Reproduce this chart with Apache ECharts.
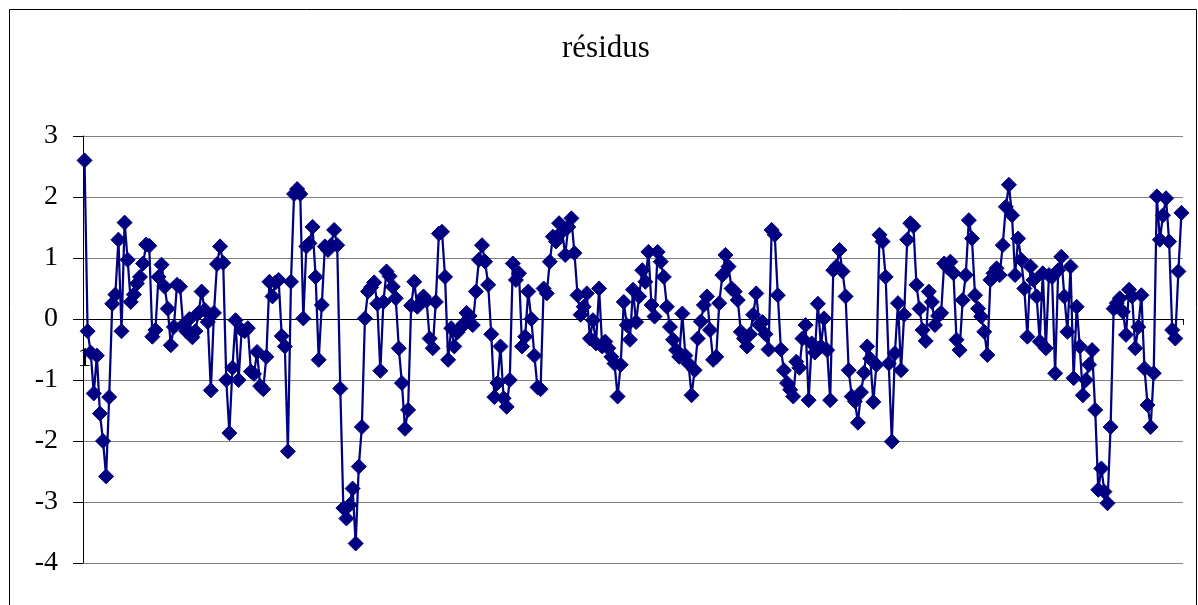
<!DOCTYPE html>
<html>
<head>
<meta charset="utf-8">
<script src="https://cdn.jsdelivr.net/npm/echarts@6/dist/echarts.min.js"></script>
<style>
html,body{margin:0;padding:0;background:#fff;}
#chart{width:1198px;height:605px;}
</style>
</head>
<body>
<div id="chart"></div>
<script>
const titleText = 'résidus';
const yTickLabels = ['-4', '-3', '-2', '-1', '0', '1', '2', '3'];

const residualsPart1 = [2.6, -0.2, -0.55, -1.22, -0.6, -1.55, -2.0, -2.58, -1.28, 0.25,
  0.4, 1.3, -0.2, 1.58, 0.97, 0.28, 0.4, 0.58, 0.69, 0.91,
  1.22, 1.2, -0.29, -0.18, 0.69, 0.89, 0.53, 0.17, -0.43, -0.13,
  0.56, 0.53, -0.1, -0.2, 0.0, -0.3, -0.2, 0.1, 0.45, 0.15,
  -0.05, -1.17, 0.1, 0.9, 1.19, 0.92, -1.0];
const residualsPart2 = [-1.87, -0.8, -0.02, -1.0, -0.18, -0.2, -0.15, -0.86, -0.9, -0.54,
  -1.1, -1.15, -0.62, 0.61, 0.37, 0.6, 0.64, -0.28, -0.45, -2.17,
  0.61, 2.05, 2.13, 2.05, 0.01, 1.19, 1.24, 1.51, 0.69, -0.67,
  0.23, 1.19, 1.13, 1.21, 1.46, 1.21, -1.14, -3.10, -3.27, -3.05,
  -2.78, -3.68, -2.42, -1.77, 0.01, 0.45, 0.52, 0.6, 0.25, -0.85,
  0.28, 0.78, 0.7, 0.53, 0.34, -0.48, -1.05, -1.8, -1.49, 0.22,
  0.61, 0.2, 0.26, 0.37, 0.3, -0.32, -0.48, 0.28, 1.40, 1.43,
  0.69, -0.67];
const residualsPart3 = [-0.15, -0.45, -0.22, -0.15, -0.08, 0.1, 0.05, -0.1, 0.45, 0.97,
  1.21, 0.94, 0.56, -0.25, -1.28, -1.05, -0.45, -1.3, -1.44, -1.0,
  0.91, 0.64, 0.75, -0.45, -0.29, 0.45, 0.0, -0.6, -1.12, -1.15,
  0.5, 0.42, 0.94, 1.35, 1.27, 1.57, 1.43, 1.05, 1.51, 1.65,
  1.08, 0.39, 0.07, 0.2, 0.42, -0.32, -0.02, -0.4, 0.5, -0.45,
  -0.37, -0.48, -0.62, -0.73, -1.27, -0.75, 0.28, -0.1, -0.34, 0.48];
const residualsPart4 = [-0.05, 0.37, 0.8, 0.61, 1.1, 0.23, 0.04, 1.1, 0.94, 0.69,
  0.2, -0.13, -0.34, -0.51, -0.62, 0.09, -0.6, -0.73, -1.25, -0.84,
  -0.32, -0.04, 0.23, 0.37, -0.18, -0.67, -0.62, 0.26, 0.72, 1.05,
  0.86, 0.5, 0.45, 0.31, -0.21, -0.32,
  -0.45, -0.25, 0.07, 0.42, -0.1, -0.05, -0.25, -0.5, 1.46, 1.38,
  0.39, -0.5, -0.84, -1.05, -1.16, -1.27, -0.7, -0.8, -0.32, -0.1,
  -1.33, -0.4, -0.55, 0.25, -0.45, 0.01, -0.51, -1.33, 0.8, 0.86,
  1.13, 0.78, 0.37, -0.84, -1.27];
const residualsPart5 = [-1.35, -1.7, -1.2, -0.88, -0.45, -0.65, -1.36, -0.75, 1.38, 1.27,
  0.69, -0.73, -2.01, -0.56, 0.26, -0.84, 0.07, 1.3, 1.57, 1.52,
  0.56, 0.17, -0.18, -0.36, 0.45, 0.28, -0.1, 0.05, 0.1, 0.91,
  0.85, 0.94, 0.75, -0.34, -0.51, 0.31,
  0.72, 1.62, 1.32, 0.39, 0.17, 0.04, -0.21, -0.59, 0.64, 0.75,
  0.83, 0.72, 1.21, 1.84, 2.2];
const residualsPart6 = [1.70, 0.72, 1.32, 0.97, 0.50, -0.29, 0.86, 0.64, 0.37, -0.37,
  0.75, -0.48, 0.72, 0.69, -0.89, 0.80, 1.02, 0.37, -0.21, 0.86,
  -0.97, 0.20, -0.45, -1.25, -1.0, -0.75, -0.51, -1.49, -2.80, -2.45,
  -2.83, -3.02, -1.77, 0.17, 0.26, 0.34, 0.12, -0.26, 0.48, 0.37,
  -0.48, -0.13, 0.39, -0.81, -1.41, -1.77, -0.89, 2.01, 1.30, 1.70,
  1.98, 1.27, -0.18, -0.32, 0.78, 1.74];

const residuals = [].concat(residualsPart1, residualsPart2, residualsPart3,
  residualsPart4, residualsPart5, residualsPart6);
const categories = residuals.map((_, i) => String(i + 1));
const N = categories.length;

const gridTop = 136, gridBottom = 42, chartH = 605;
const yMin = -4, yMax = 3;
const plotH = chartH - gridTop - gridBottom;
const zeroOffset = -(plotH * (0 - yMin) / (yMax - yMin));

const chart = echarts.init(document.getElementById('chart'), null, {renderer: 'canvas'});
const serif = '"Liberation Serif", "Times New Roman", serif';
chart.setOption({
  animation: false,
  backgroundColor: '#fff',
  title: {
    text: titleText,
    left: 557,
    top: 28,
    textStyle: {fontFamily: serif, fontSize: 31, fontWeight: 'normal', color: '#000'}
  },
  grid: {left: 83, right: 15, top: gridTop, bottom: gridBottom, containLabel: false, outerBoundsMode: 'none'},
  xAxis: {
    type: 'category',
    data: categories,
    boundaryGap: true,
    offset: zeroOffset,
    axisLine: {onZero: false, lineStyle: {color: '#000', width: 1}},
    axisTick: {show: true, interval: N - 1, length: 6, lineStyle: {color: '#000'}},
    axisLabel: {interval: N, fontFamily: serif, fontSize: 28, color: '#000', margin: 26},
    splitLine: {show: false}
  },
  yAxis: {
    type: 'value',
    min: yMin, max: yMax, interval: 1,
    axisLine: {show: true, lineStyle: {color: '#000', width: 1}},
    axisTick: {show: true, length: 10, lineStyle: {color: '#000'}},
    axisLabel: {
      fontFamily: serif, fontSize: 28, color: '#000', margin: 25,
      formatter: function (v) { return yTickLabels[Math.round(v) - yMin]; }
    },
    splitLine: {show: true, lineStyle: {color: '#808080', width: 1}}
  },
  series: [{
    type: 'line',
    data: residuals,
    symbol: 'diamond',
    symbolSize: 15,
    showAllSymbol: true,
    lineStyle: {color: '#000080', width: 2.25},
    itemStyle: {color: '#000080', borderColor: '#000080'},
    z: 3
  }],
  graphic: [{
    type: 'rect',
    silent: true,
    z: 100,
    shape: {x: 9.5, y: 9.5, width: 1187, height: 700},
    style: {fill: null, stroke: '#000', lineWidth: 1}
  }]
});
</script>
</body>
</html>
